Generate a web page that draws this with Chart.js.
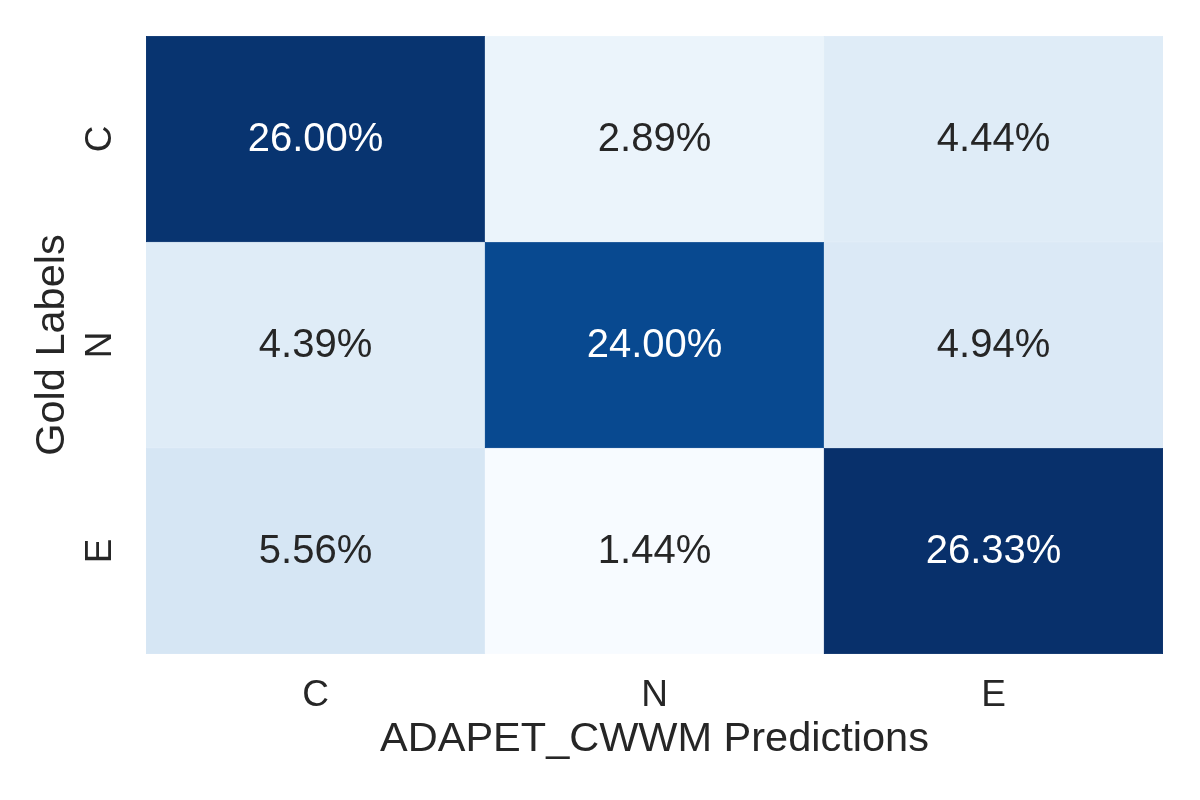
<!DOCTYPE html>
<html>
<head>
<meta charset="utf-8">
<script src="https://cdn.jsdelivr.net/npm/chart.js@4"></script>
<style>
  html, body { margin: 0; padding: 0; background: #fff; }
  #wrap { width: 1200px; height: 800px; }
</style>
</head>
<body>
<div id="wrap"><canvas id="cm"></canvas></div>
<script>
// confusion matrix, rows = gold labels, columns = predictions (percent)
const predLabels = ['C', 'N', 'E'];
const goldLabels = ['C', 'N', 'E'];
const rowC = [26.00, 2.89, 4.44];
const rowN = [4.39, 24.00, 4.94];
const rowE = [5.56, 1.44, 26.33];

// matplotlib "Blues" colormap stops
const bluesStops = [
    [247, 251, 255],
    [222, 235, 247],
    [198, 219, 239],
    [158, 202, 225],
    [107, 174, 214],
    [66, 146, 198],
    [33, 113, 181],
    [8, 81, 156],
    [8, 48, 107]
];

const rows = [rowC, rowN, rowE];
const allVals = rows.flat();
const vmin = Math.min(...allVals);
const vmax = Math.max(...allVals);

function blues(v) {
    let t = (v - vmin) / (vmax - vmin);
    t = Math.max(0, Math.min(1, t)) * (bluesStops.length - 1);
    const i = Math.min(Math.floor(t), bluesStops.length - 2);
    const f = t - i;
    const a = bluesStops[i], b = bluesStops[i + 1];
    const c = a.map((x, k) => Math.round(x + (b[k] - x) * f));
    return 'rgb(' + c.join(',') + ')';
}

function textColor(v) {
    const t = (v - vmin) / (vmax - vmin);
    return t > 0.6 ? '#ffffff' : '#262626';
}

const FONT = "'Liberation Sans', Arial, sans-serif";

const datasets = rows.map((r, i) => ({
    label: goldLabels[i],
    data: r.map(() => 1),
    pct: r,
    backgroundColor: r.map(blues),
    borderColor: r.map(blues),
    borderWidth: 0.5,
    borderSkipped: false,
    barPercentage: 1,
    categoryPercentage: 1
}));

const cellText = {
    id: 'cellText',
    afterDatasetsDraw(chart) {
        const ctx = chart.ctx;
        ctx.save();
        ctx.font = '40px ' + FONT;
        ctx.textAlign = 'center';
        ctx.textBaseline = 'middle';
        chart.data.datasets.forEach((ds, di) => {
            chart.getDatasetMeta(di).data.forEach((bar, j) => {
                const v = ds.pct[j];
                ctx.fillStyle = textColor(v);
                ctx.fillText(v.toFixed(2) + '%', bar.x, (bar.y + bar.base) / 2 + 1);
            });
        });
        ctx.restore();
    }
};

new Chart(document.getElementById('cm'), {
    type: 'bar',
    data: { labels: predLabels, datasets: datasets },
    options: {
        responsive: true,
        maintainAspectRatio: false,
        animation: false,
        layout: { padding: { top: 36, right: 37, left: 0, bottom: 0 } },
        plugins: { legend: { display: false }, tooltip: { enabled: false } },
        scales: {
            x: {
                stacked: true,
                grid: { display: false, drawTicks: false },
                border: { display: false },
                ticks: { color: '#262626', padding: 20, font: { family: FONT, size: 37 } },
                title: {
                    display: true,
                    text: 'ADAPET_CWWM Predictions',
                    color: '#262626',
                    font: { family: FONT, size: 41.5 },
                    padding: { top: 0, bottom: 36 }
                },
                afterFit(scale) {
                    scale.height = 146;
                    scale.paddingLeft = 0;
                    scale.paddingRight = 0;
                }
            },
            y: {
                stacked: true,
                reverse: true,
                min: 0,
                max: 3,
                grid: { display: false, drawTicks: false },
                border: { display: false },
                afterBuildTicks(scale) {
                    scale.ticks = goldLabels.map((_, i) => ({ value: i + 0.5 }));
                },
                ticks: {
                    color: '#262626',
                    padding: 32,
                    minRotation: 90,
                    maxRotation: 90,
                    crossAlign: 'center',
                    font: { family: FONT, size: 37 },
                    callback: (v) => goldLabels[Math.floor(v)]
                },
                title: {
                    display: true,
                    text: 'Gold Labels',
                    color: '#262626',
                    font: { family: FONT, size: 41.5 },
                    padding: { top: 28, bottom: 0 }
                },
                afterFit(scale) {
                    scale.width = 146;
                    scale.paddingTop = 0;
                    scale.paddingBottom = 0;
                }
            }
        }
    },
    plugins: [cellText]
});
</script>
</body>
</html>
